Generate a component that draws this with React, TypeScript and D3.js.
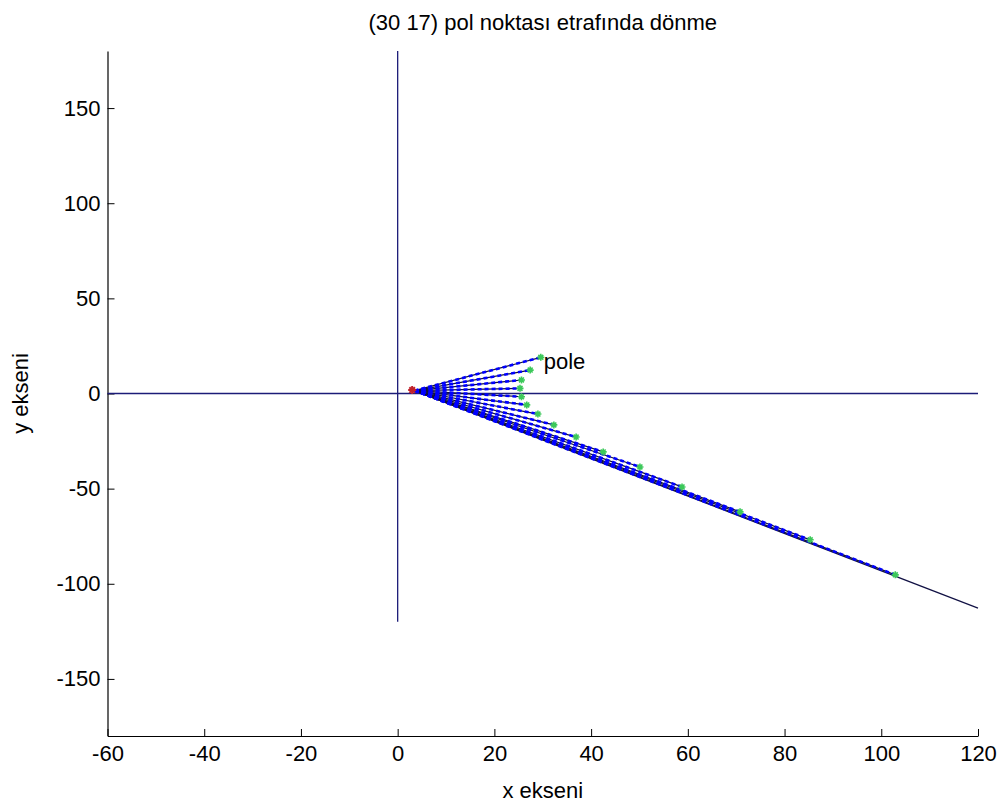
import { useEffect, useRef } from 'react';
import * as d3 from 'd3';

const TITLE = '(30 17) pol noktası etrafında dönme';
const X_LABEL = 'x ekseni';
const Y_LABEL = 'y ekseni';

const X_TICKS = [-60, -40, -20, 0, 20, 40, 60, 80, 100, 120];
const Y_TICKS = [-150, -100, -50, 0, 50, 100, 150];

// common start of every rotated segment (red marker)
const START = [3.5, 1.5];
// rotated end points (green markers)
const END_X = [29.6, 27.4, 25.6, 25.3, 25.6, 26.7, 29.0, 32.3, 36.9, 42.5, 50.1, 58.8, 70.8, 85.3, 102.9];
const END_Y = [19.0, 12.3, 7.1, 2.7, -1.7, -6.0, -10.8, -16.5, -22.9, -30.7, -38.6, -49.1, -62.2, -76.9, -95.3];
// longest segment, drawn without markers
const LAST_END = [120, -112.8];

// reference axes through origin
const VLINE_Y = [-120, 180];
const HLINE_X = [-60, 120];

const FONT = '"Liberation Sans", Arial, sans-serif';

export default function App() {
  const ref = useRef<SVGSVGElement>(null);

  useEffect(() => {
    const width = 1004;
    const height = 811;
    const svg = d3.select(ref.current);
    svg.selectAll('*').remove();
    svg.attr('width', width).attr('height', height);

    const x = d3.scaleLinear().domain([-60, 120]).range([107.5, 978]);
    const y = d3.scaleLinear().domain([-180, 180]).range([736, 51]);

    svg.append('rect').attr('width', width).attr('height', height).attr('fill', '#fff');

    // axes (MATLAB style: ticks inside, plain hyphen)
    const fmt = (d: d3.NumberValue) => String(d);
    const xAxis = svg
      .append('g')
      .attr('transform', `translate(0,${y(-180)})`)
      .call(d3.axisBottom(x).tickValues(X_TICKS).tickFormat(fmt).tickSizeInner(-7).tickSizeOuter(0).tickPadding(9));
    const yAxis = svg
      .append('g')
      .attr('transform', `translate(${x(-60)},0)`)
      .call(d3.axisLeft(y).tickValues(Y_TICKS).tickFormat(fmt).tickSizeInner(-7).tickSizeOuter(0).tickPadding(7));
    [xAxis, yAxis].forEach(g => {
      g.select('.domain').attr('stroke', '#000').attr('stroke-width', 1.2);
      g.selectAll('.tick line').attr('stroke', '#000');
      g.selectAll('.tick text')
        .attr('font-family', FONT)
        .attr('font-size', 22)
        .attr('fill', '#000');
    });

    // lines through origin
    svg.append('line')
      .attr('x1', x(0)).attr('x2', x(0))
      .attr('y1', y(VLINE_Y[0])).attr('y2', y(VLINE_Y[1]))
      .attr('stroke', '#1c1c78').attr('stroke-width', 1.3);
    svg.append('line')
      .attr('x1', x(HLINE_X[0])).attr('x2', x(HLINE_X[1]))
      .attr('y1', y(0)).attr('y2', y(0))
      .attr('stroke', '#1c1c78').attr('stroke-width', 1.3);

    const segs = END_X.map((ex, i) => ({ x: ex, y: END_Y[i] }));

    // longest segment
    svg.append('line')
      .attr('x1', x(START[0])).attr('y1', y(START[1]))
      .attr('x2', x(LAST_END[0])).attr('y2', y(LAST_END[1]))
      .attr('stroke', '#111144').attr('stroke-width', 1.2);

    const g = svg.append('g');
    // dark thin lines
    g.selectAll('line.thin')
      .data(segs)
      .join('line')
      .attr('class', 'thin')
      .attr('x1', x(START[0])).attr('y1', y(START[1]))
      .attr('x2', d => x(d.x)).attr('y2', d => y(d.y))
      .attr('stroke', '#101040').attr('stroke-width', 1.2);
    // blue dotted overlay
    g.selectAll('line.dot')
      .data(segs)
      .join('line')
      .attr('class', 'dot')
      .attr('x1', x(START[0])).attr('y1', y(START[1]))
      .attr('x2', d => x(d.x)).attr('y2', d => y(d.y))
      .attr('stroke', '#0000ff').attr('stroke-width', 2.6)
      .attr('stroke-dasharray', '4 3');

    // star markers
    const star = (s: number) =>
      `M${-s},0L${s},0M0,${-s}L0,${s}M${-s * 0.7},${-s * 0.7}L${s * 0.7},${s * 0.7}M${-s * 0.7},${s * 0.7}L${s * 0.7},${-s * 0.7}`;
    svg.append('g')
      .selectAll('path')
      .data(segs)
      .join('path')
      .attr('transform', d => `translate(${x(d.x)},${y(d.y)})`)
      .attr('d', star(3.5))
      .attr('stroke', '#3cc85a').attr('stroke-width', 1.6).attr('fill', 'none');

    svg.append('path')
      .attr('transform', `translate(${x(3)},${y(1.8)})`)
      .attr('d', star(4))
      .attr('stroke', '#c0202a').attr('stroke-width', 2).attr('fill', 'none');

    // pole label
    svg.append('text')
      .attr('x', x(30) + 1).attr('y', y(17))
      .attr('dy', '0.35em')
      .attr('font-family', FONT).attr('font-size', 22)
      .text('pole');

    // title and axis labels
    svg.append('text')
      .attr('x', (x(-60) + x(120)) / 2).attr('y', 30)
      .attr('text-anchor', 'middle')
      .attr('font-family', FONT).attr('font-size', 22)
      .text(TITLE);
    svg.append('text')
      .attr('x', (x(-60) + x(120)) / 2).attr('y', 798)
      .attr('text-anchor', 'middle')
      .attr('font-family', FONT).attr('font-size', 22)
      .text(X_LABEL);
    svg.append('text')
      .attr('transform', `translate(28,${(y(-180) + y(180)) / 2}) rotate(-90)`)
      .attr('text-anchor', 'middle')
      .attr('font-family', FONT).attr('font-size', 22)
      .text(Y_LABEL);
  }, []);

  return <svg ref={ref} style={{ position: 'absolute', left: 0, top: 0, display: 'block' }} />;
}
